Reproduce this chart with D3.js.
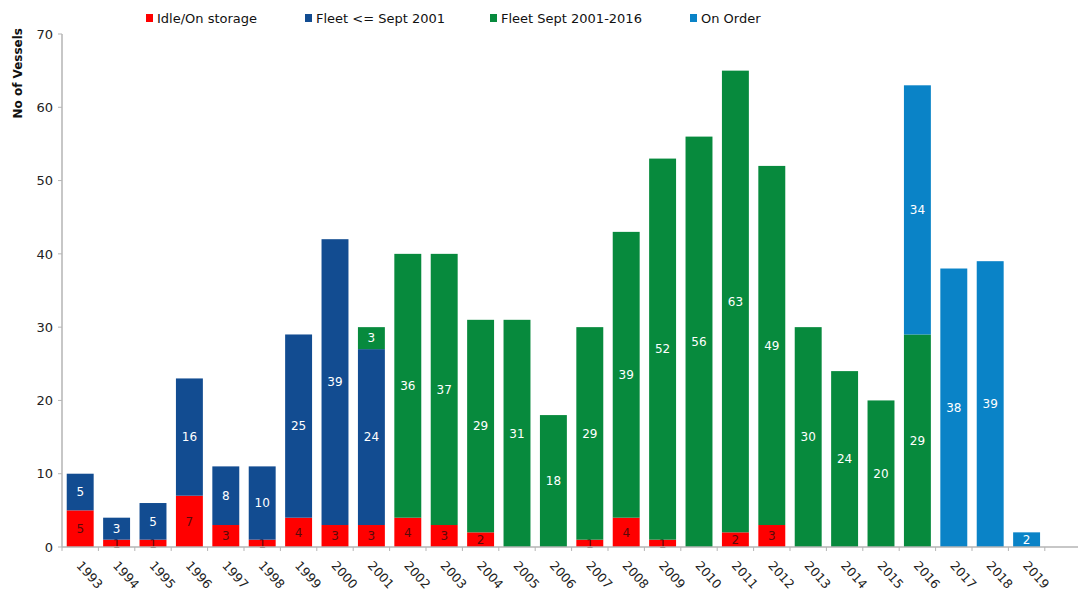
<!DOCTYPE html>
<html>
<head>
<meta charset="utf-8">
<script src="https://cdn.jsdelivr.net/npm/d3@7"></script>
<style>
  body { margin: 0; background: #fff; }
  svg { font-family: "DejaVu Sans", Verdana, sans-serif; }
</style>
</head>
<body>
<svg id="chart" width="1078" height="598"></svg>
<script>
const years = ["1993", "1994", "1995", "1996", "1997", "1998", "1999", "2000", "2001",
  "2002", "2003", "2004", "2005", "2006", "2007", "2008", "2009", "2010", "2011",
  "2012", "2013", "2014", "2015", "2016", "2017", "2018", "2019"];

const idle = [5, 1, 1, 7, 3, 1, 4, 3, 3, 4, 3, 2, 0, 0, 1, 4, 1, 0, 2, 3, 0, 0, 0, 0, 0, 0, 0];
const fleetOld = [5, 3, 5, 16, 8, 10, 25, 39, 24, 0, 0, 0, 0, 0, 0, 0, 0, 0, 0, 0, 0, 0, 0, 0, 0, 0, 0];
const fleetNew = [0, 0, 0, 0, 0, 0, 0, 0, 3, 36, 37, 29, 31, 18, 29, 39, 52, 56, 63, 49, 30, 24, 20, 29, 0, 0, 0];
const onOrder = [0, 0, 0, 0, 0, 0, 0, 0, 0, 0, 0, 0, 0, 0, 0, 0, 0, 0, 0, 0, 0, 0, 0, 34, 38, 39, 2];

const seriesNames = ["Idle/On storage", "Fleet <= Sept 2001", "Fleet Sept 2001-2016", "On Order"];
const seriesColors = ["#ff0000", "#124c91", "#078a3d", "#0a83c7"];
const yTicks = [0, 10, 20, 30, 40, 50, 60, 70];

const svg = d3.select("#chart");
const width = +svg.attr("width");

const plotLeft = 62, plotBottom = 547, plotTop = 34, step = 36.4;

const rows = years.map((y, i) => ({
  year: y, idle: idle[i], fleetOld: fleetOld[i], fleetNew: fleetNew[i], onOrder: onOrder[i]
}));
const keys = ["idle", "fleetOld", "fleetNew", "onOrder"];
const stacked = d3.stack().keys(keys)(rows);

const x = d3.scaleBand()
  .domain(years)
  .range([plotLeft, plotLeft + step * years.length])
  .paddingInner(0.26)
  .paddingOuter(0.13);

const y = d3.scaleLinear().domain([0, 70]).range([plotBottom, plotTop]);

// bars
stacked.forEach((layer, k) => {
  const g = svg.append("g");
  g.selectAll("rect")
    .data(layer.filter(d => d[1] - d[0] > 0))
    .join("rect")
    .attr("x", d => x(d.data.year))
    .attr("y", d => y(d[1]))
    .attr("width", x.bandwidth())
    .attr("height", d => y(d[0]) - y(d[1]))
    .attr("fill", seriesColors[k]);

  g.selectAll("text")
    .data(layer.filter(d => d[1] - d[0] > 0))
    .join("text")
    .attr("x", d => x(d.data.year) + x.bandwidth() / 2)
    .attr("y", d => y((d[0] + d[1]) / 2))
    .attr("dy", "0.36em")
    .attr("text-anchor", "middle")
    .attr("font-size", 12)
    .attr("fill", k === 0 ? "#5a0a0a" : "#ffffff")
    .text(d => d[1] - d[0]);
});

// y axis
const yAxis = svg.append("g");
yAxis.append("line")
  .attr("x1", plotLeft).attr("x2", plotLeft)
  .attr("y1", y(70)).attr("y2", plotBottom)
  .attr("stroke", "#b5b5b5").attr("stroke-width", 1.5);
yAxis.selectAll(".tick")
  .data(yTicks)
  .join("line")
  .attr("x1", plotLeft - 4).attr("x2", plotLeft)
  .attr("y1", d => y(d)).attr("y2", d => y(d))
  .attr("stroke", "#b5b5b5");
yAxis.selectAll("text")
  .data(yTicks)
  .join("text")
  .attr("x", plotLeft - 9)
  .attr("y", d => y(d))
  .attr("dy", "0.36em")
  .attr("text-anchor", "end")
  .attr("font-size", 13)
  .attr("fill", "#222")
  .text(d => d);

svg.append("text")
  .attr("transform", `translate(22,28) rotate(-90)`)
  .attr("text-anchor", "end")
  .attr("font-size", 12)
  .attr("font-weight", "bold")
  .attr("fill", "#111")
  .text("No of Vessels");

// x axis
const xAxis = svg.append("g");
xAxis.append("line")
  .attr("x1", plotLeft).attr("x2", width)
  .attr("y1", plotBottom).attr("y2", plotBottom)
  .attr("stroke", "#b5b5b5").attr("stroke-width", 1.5);
const bounds = d3.range(years.length + 1).map(i => plotLeft + i * x.step());
xAxis.selectAll(".tick")
  .data(bounds)
  .join("line")
  .attr("x1", d => d).attr("x2", d => d)
  .attr("y1", plotBottom).attr("y2", plotBottom + 4)
  .attr("stroke", "#b5b5b5");
xAxis.selectAll("text")
  .data(years)
  .join("text")
  .attr("transform", d => `translate(${x(d) + x.bandwidth() / 2 - 1},${plotBottom + 16}) rotate(48)`)
  .attr("dy", "0.36em")
  .attr("font-size", 12.5)
  .attr("fill", "#222")
  .text(d => d);

// legend
const legendX = [146, 305, 490, 690];
const legend = svg.append("g");
seriesNames.forEach((name, i) => {
  legend.append("rect")
    .attr("x", legendX[i]).attr("y", 14)
    .attr("width", 7).attr("height", 8)
    .attr("fill", seriesColors[i]);
  legend.append("text")
    .attr("x", legendX[i] + 11).attr("y", 23)
    .attr("font-size", 13)
    .attr("fill", "#111")
    .text(name);
});
</script>
</body>
</html>
